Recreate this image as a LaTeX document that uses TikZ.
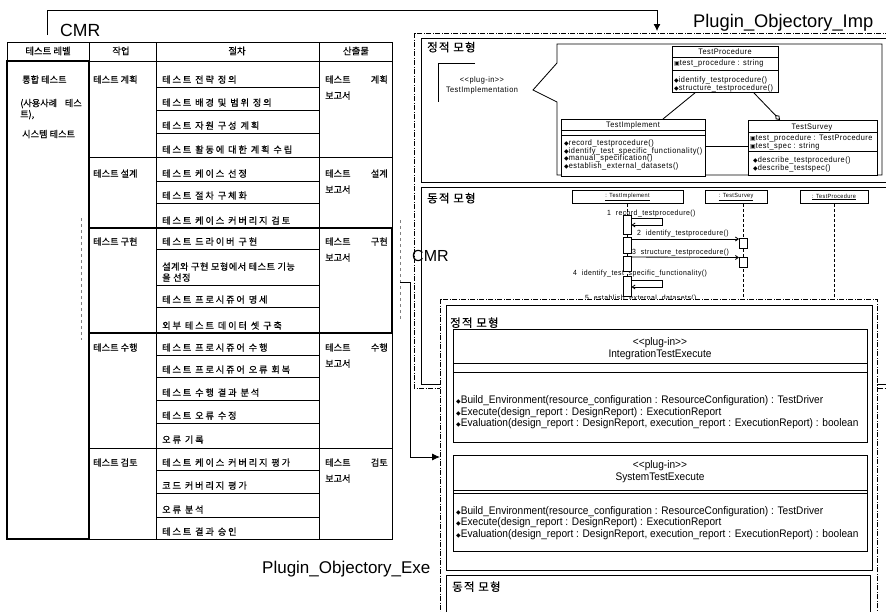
\documentclass[tikz,border=0pt]{standalone}
\usepackage{fontspec}
\setmainfont{Liberation Sans}
\newfontfamily\krwide{Noto Sans CJK KR}[LetterSpace=20, FakeBold=0.5]
\newfontfamily\krfit{Noto Sans CJK KR}[LetterSpace=5, FakeBold=0.5]
\newfontfamily\krfont{Noto Sans CJK KR}[FakeBold=0.5]
\newfontfamily\krhead{Noto Sans CJK KR}[LetterSpace=10, FakeBold=0.5]
\newfontfamily\umlfont{Liberation Sans}[FakeStretch=0.92]
\newfontfamily\seqfont{Liberation Sans}[FakeStretch=0.92, LetterSpace=6]
\newfontfamily\symfont{DejaVu Sans}
\usetikzlibrary{arrows.meta}
\newcommand\opmark{{\symfont\fontsize{6}{6}\selectfont ◆}}
\newcommand\atmark{{\symfont\fontsize{6}{6}\selectfont ▣}}
\newcommand\stereo{\textless\textless plug-in\textgreater\textgreater}

\tikzset{
  rule/.style={line width=0.85pt},
  heavy/.style={line width=1.7pt},
  dashframe/.style={line width=0.7pt, dash pattern=on 5pt off 1.5pt on 1pt off 1.5pt},
  marker/.style={line width=0.5pt, gray, dashed},
  kt/.style={font=\krfont\fontsize{9.2}{11}\selectfont, inner sep=0pt, anchor=base west},
  kte/.style={kt, anchor=base east},
  kth/.style={kt, anchor=base, font=\krfont\fontsize{9.4}{10}\selectfont},
  kp/.style={kt, font=\krwide\fontsize{9.2}{11}\selectfont},
  kpfit/.style={kt, font=\krfit\fontsize{9.2}{11}\selectfont},
  panelhd/.style={font=\krhead\fontsize{11.5}{13}\selectfont, inner sep=0pt, anchor=base west},
  bigtag/.style={font=\fontsize{18.3}{20}\selectfont, inner sep=0pt, anchor=base west},
  clsbox/.style={draw, rule, anchor=north west, inner sep=0pt},
  tiny/.style={font=\seqfont\fontsize{8}{8}\selectfont, inner sep=0pt, anchor=base west},
  tinyc/.style={tiny, anchor=base},
  seqtxt/.style={font=\seqfont\fontsize{7.5}{8}\selectfont, inner sep=0pt, anchor=base west},
  seqhead/.style={draw, rule, inner sep=0pt, minimum height=13pt, font=\seqfont\fontsize{6}{6}\selectfont},
  act/.style={draw, rule, fill=white, minimum width=8pt, inner sep=0pt},
  msg/.style={rule, -{Straight Barb[length=3pt,width=4pt]}},
  lifeline/.style={line width=0.55pt, dash pattern=on 3pt off 2pt},
  big/.style={font=\umlfont\fontsize{11}{12}\selectfont, inner sep=0pt, anchor=base west},
  bigc/.style={big, anchor=base},
  link/.style={rule, -{Latex[length=7pt,width=7pt]}},
}

\begin{document}
\begin{tikzpicture}[x=1pt,y=-1pt]
\useasboundingbox (0,0) rectangle (886,611);
\clip (0,0) rectangle (886,611);
\fill[white] (0,0) rectangle (886,611);

% ---------------- process table ----------------
\draw[rule] (7,42) rectangle (392,539);
\draw[rule] (7,61) -- (392,61);
\draw[rule] (89,42) -- (89,539);
\draw[rule] (156,42) -- (156,539);
\draw[rule] (319,42) -- (319,539);
\foreach \y in {157,228,333,448} \draw[rule] (89,\y) -- (392,\y);
\foreach \y in {87,110,133,181,203,249,285,307,355,377,400,423,470,493,517}
  \draw[rule] (156,\y) -- (319,\y);
\draw[heavy] (7,61) rectangle (89,539);
\draw[heavy] (89,228) rectangle (392,333);

% header row
\node[kth] (hLevel) at (48,54.5) {테스트 레벨};
\node[kth] (hTask) at (121,54.5) {작업};
\node[kth] (hProc) at (237,54.5) {절차};
\node[kth] (hOut) at (356,54.5) {산출물};

% test levels
\node[kt] (lv1) at (22,83) {통합 테스트};
\node[kt] (lv2a) at (20,106.5) {(사용사례};
\node[kte] (lv2b) at (82,106.5) {테스};
\node[kt] (lv2c) at (20,117.5) {트),};
\node[kt] (lv3) at (22,137.5) {시스템 테스트};

% tasks
\node[kt] (tPlan) at (93,83) {테스트 계획};
\node[kt] (tDesign) at (93,177) {테스트 설계};
\node[kt] (tBuild) at (93,245) {테스트 구현};
\node[kt] (tRun) at (93,351) {테스트 수행};
\node[kt] (tReview) at (93,466) {테스트 검토};

% procedures
\node[kp] (p01) at (162,83) {테스트 전략 정의};
\node[kp] (p02) at (162,106) {테스트 배경 및 범위 정의};
\node[kp] (p03) at (162,129) {테스트 자원 구성 계획};
\node[kp] (p04) at (162,153) {테스트 활동에 대한 계획 수립};
\node[kp] (p05) at (162,177) {테스트 케이스 선정};
\node[kp] (p06) at (162,199) {테스트 절차 구체화};
\node[kp] (p07) at (162,224) {테스트 케이스 커버리지 검토};
\node[kp] (p08) at (162,245) {테스트 드라이버 구현};
\node[kpfit] (p09a) at (162,270) {설계와 구현 모형에서 테스트 기능};
\node[kpfit] (p09b) at (162,281) {을 선정};
\node[kp] (p10) at (162,303) {테스트 프로시쥬어 명세};
\node[kp] (p11) at (162,329) {외부 테스트 데이터 셋 구축};
\node[kp] (p12) at (162,351) {테스트 프로시쥬어 수행};
\node[kp] (p13) at (162,373) {테스트 프로시쥬어 오류 회복};
\node[kp] (p14) at (162,396) {테스트 수행 결과 분석};
\node[kp] (p15) at (162,419) {테스트 오류 수정};
\node[kp] (p16) at (162,443) {오류 기록};
\node[kp] (p17) at (162,466) {테스트 케이스 커버리지 평가};
\node[kp] (p18) at (162,489) {코드 커버리지 평가};
\node[kp] (p19) at (162,513) {오류 분석};
\node[kp] (p20) at (162,535) {테스트 결과 승인};

% outputs
\foreach \nm/\w/\y in {oPlan/계획/83, oDesign/설계/177, oBuild/구현/245, oRun/수행/351, oReview/검토/466}{
  \node[kt] (\nm a) at (325,\y) {테스트};
  \node[kte] (\nm b) at (388,\y) {\w};
  \node[kt] (\nm c) at (325,\y+16) {보고서};
}

% group markers beside the build stage
\draw[marker] (81,218) -- (81,340);
\coordinate (buildMark) at (400,282);
\draw[marker] (400,220) -- (400,320);

% ---------------- Plugin_Objectory_Imp ----------------
\node[bigtag] (impTag) at (693,27) {Plugin\_Objectory\_Imp};
\draw[dashframe] (414,33) rectangle (900,388);
\draw[rule, fill=white] (421,38) rectangle (900,182);
\draw[rule, fill=white] (421,187) rectangle (900,384);
\node[panelhd] (impStatic) at (427,51.5) {정적 모형};
\node[panelhd] (impDynamic) at (427,202.5) {동적 모형};

% plug-in element and its note
\draw[rule] (475,63) -- (438,63) -- (438,102);
\node[tinyc] (tiStereo) at (482,82.5) {\stereo};
\node[tinyc] (tiName) at (482,92.5) {TestImplementation};
\draw[rule] (557,63) -- (557,44) -- (882,44) -- (882,175) -- (557,175) -- (557,102) -- (533,90) -- cycle;

% classes
\node[clsbox, minimum width=106pt, minimum height=46pt] (cProc) at (672,46) {};
\node[tinyc] (cProcN) at (725,54.5) {TestProcedure};
\draw[rule] (672,57) -- (778,57);
\draw[rule] (672,70) -- (778,70);
\node[tiny] (cProcA) at (674,65) {\atmark test\_procedure : string};
\node[tiny] (cProcM1) at (674,82.5) {\opmark identify\_testprocedure()};
\node[tiny] (cProcM2) at (674,90.5) {\opmark structure\_testprocedure()};

\node[clsbox, fill=white, minimum width=144pt, minimum height=57pt] (cImpl) at (561,119) {};
\node[tinyc] (cImplN) at (633,127.5) {TestImplement};
\draw[rule] (561,130) -- (705,130);
\draw[rule] (561,135) -- (705,135);
\node[tiny] (cImplM1) at (564,145.5) {\opmark record\_testprocedure()};
\node[tiny] (cImplM2) at (564,153) {\opmark identify\_test\_specific\_functionality()};
\node[tiny] (cImplM3) at (564,160.5) {\opmark manual\_specification()};
\node[tiny] (cImplM4) at (564,168) {\opmark establish\_external\_datasets()};

\node[clsbox, fill=white, minimum width=129pt, minimum height=55pt] (cSurv) at (748,120) {};
\node[tinyc] (cSurvN) at (812,129.5) {TestSurvey};
\draw[rule] (748,132) -- (877,132);
\draw[rule] (748,151) -- (877,151);
\node[tiny] (cSurvA1) at (750,140.5) {\atmark test\_procedure : TestProcedure};
\node[tiny] (cSurvA2) at (750,148) {\atmark test\_spec : string};
\node[tiny] (cSurvM1) at (753,162.5) {\opmark describe\_testprocedure()};
\node[tiny] (cSurvM2) at (753,170.5) {\opmark describe\_testspec()};

\draw[rule] ([xshift=23pt]cProc.south west) -- ([xshift=102pt]cImpl.north west);
\draw[rule, -{Diamond[open,length=7pt,width=5pt]}] ([xshift=-25pt]cProc.south east) -- ([xshift=32pt]cSurv.north west);
\draw[rule] ([yshift=-27pt]cImpl.north east) -- ([yshift=-26pt]cSurv.north west);

% sequence of the dynamic model
\node[seqhead, minimum width=111pt] (sImpl) at (627.5,197) {\underline{: TestImplement}};
\node[seqhead, minimum width=62pt] (sSurv) at (736,197) {\underline{: TestSurvey}};
\node[seqhead, minimum width=68pt] (sProc) at (834,197) {\underline{: TestProcedure}};
\draw[lifeline] (sImpl.south) -- ++(0,185);
\draw[lifeline] ([xshift=7pt]sSurv.south) -- ++(0,185);
\draw[lifeline] (sProc.south) -- ++(0,185);

\node[act, minimum height=19pt, anchor=north] (aI1) at (627,215) {};
\node[act, minimum height=16pt, anchor=north] (aI2) at (627,237) {};
\node[act, minimum height=15pt, anchor=north] (aI3) at (627,256) {};
\node[act, minimum height=20pt, anchor=north] (aI4) at (627,276) {};
\node[act, minimum height=10pt, anchor=north] (aS1) at (743.5,238) {};
\node[act, minimum height=10pt, anchor=north] (aS2) at (743.5,257) {};

\node[seqtxt] (m1) at (607,215) {1 \ record\_testprocedure()};
\draw[msg] ([yshift=-3pt]aI1.north east) -- ++(31,0) -- ++(0,7) -- ([yshift=-10pt]aI1.north east);
\node[seqtxt] (m2) at (637,235) {2 \ identify\_testprocedure()};
\draw[msg] ([yshift=-2pt]aI2.north east) -- ([yshift=-1pt]aS1.north west);
\node[seqtxt] (m3) at (632,254) {3 \ structure\_testprocedure()};
\draw[msg] ([yshift=-1pt]aI3.north east) -- ([yshift=-0.5pt]aS2.north west);
\node[seqtxt] (m4) at (573,275.5) {4 \ identify\_test\_specific\_functionality()};
\draw[msg] ([yshift=-4pt]aI4.north east) -- ++(31,0) -- ++(0,7) -- ([yshift=-11pt]aI4.north east);
\node[seqtxt] (m5) at (585,300) {5 \ establish\_external\_datasets()};

% ---------------- Plugin_Objectory_Exe ----------------
\draw[dashframe, fill=white] (440,299) rectangle (877,640);
\draw[rule, fill=white] (446,305) rectangle (872,570);
\draw[rule] (446,575) rectangle (870,640);
\node[panelhd] (exeStatic) at (450,327) {정적 모형};
\node[panelhd] (exeDynamic) at (452,591) {동적 모형};
\node[bigtag, font=\fontsize{17}{19}\selectfont] (exeTag) at (262,573) {Plugin\_Objectory\_Exe};

\node[clsbox, minimum width=414pt, minimum height=113pt] (cIte) at (453,329) {};
\node[bigc] (cIteS) at (660,345.5) {\stereo};
\node[bigc] (cIteN) at (660,357) {IntegrationTestExecute};
\draw[rule] (453,363) -- (867,363);
\draw[rule] (453,372) -- (867,372);
\node[big] (cIteM1) at (456,403) {\opmark Build\_Environment(resource\_configuration : ResourceConfiguration) : TestDriver};
\node[big] (cIteM2) at (456,415) {\opmark Execute(design\_report : DesignReport) : ExecutionReport};
\node[big] (cIteM3) at (456,426.5) {\opmark Evaluation(design\_report : DesignReport, execution\_report : ExecutionReport) : boolean};

\node[clsbox, minimum width=414pt, minimum height=96pt] (cSte) at (453,455) {};
\node[bigc] (cSteS) at (660,468.5) {\stereo};
\node[bigc] (cSteN) at (660,480) {SystemTestExecute};
\draw[rule] (453,490) -- (867,490);
\draw[rule] (453,493) -- (867,493);
\node[big] (cSteM1) at (456,514) {\opmark Build\_Environment(resource\_configuration : ResourceConfiguration) : TestDriver};
\node[big] (cSteM2) at (456,525.5) {\opmark Execute(design\_report : DesignReport) : ExecutionReport};
\node[big] (cSteM3) at (456,537.5) {\opmark Evaluation(design\_report : DesignReport, execution\_report : ExecutionReport) : boolean};

% ---------------- CMR links ----------------
\coordinate (levelTop) at (47,35);
\coordinate (impEntry) at (657,31);
\node[bigtag, font=\fontsize{17.6}{19}\selectfont] (cmrTop) at (60,36) {CMR};
\draw[link] (levelTop) |- (657,10) -- (impEntry);

\coordinate (exeEntry) at (440,457);
\node[bigtag, font=\fontsize{16}{18}\selectfont] (cmrMid) at (412,261) {CMR};
\draw[rule, -{Latex[length=8pt,width=7pt]}] (buildMark) -- (410,282) |- (exeEntry);
\end{tikzpicture}
\end{document}
